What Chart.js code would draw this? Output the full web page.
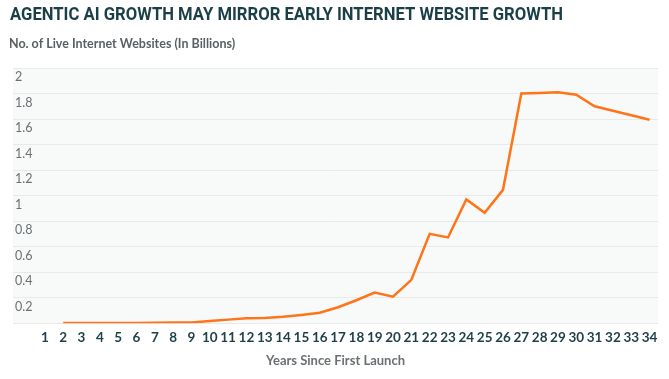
<!DOCTYPE html>
<html>
<head>
<meta charset="utf-8">
<script src="https://cdn.jsdelivr.net/npm/chart.js@4"></script>
<style>
  html, body { margin: 0; padding: 0; background: #ffffff; }
  canvas { display: block; }
</style>
</head>
<body>
<canvas id="growthChart" width="669" height="379"></canvas>
<script>
// Years since first launch (x axis categories)
const years = [1, 2, 3, 4, 5, 6, 7, 8, 9, 10, 11, 12, 13, 14, 15, 16, 17,
               18, 19, 20, 21, 22, 23, 24, 25, 26, 27, 28, 29, 30, 31, 32, 33, 34];

// Live internet websites, in billions (year 1 has no point)
const websites = [null, 0.001, 0.001, 0.001, 0.001, 0.002, 0.004, 0.005, 0.005, 0.017,
                  0.028, 0.038, 0.040, 0.050, 0.065, 0.082, 0.125, 0.18, 0.24, 0.208,
                  0.34, 0.70, 0.672, 0.97, 0.865, 1.045, 1.80, 1.805, 1.81, 1.79,
                  1.70, 1.665, 1.63, 1.595];

const yTicks = [0, 0.2, 0.4, 0.6, 0.8, 1, 1.2, 1.4, 1.6, 1.8, 2];

const titleText = 'AGENTIC AI GROWTH MAY MIRROR EARLY INTERNET WEBSITE GROWTH';
const subtitleText = 'No. of Live Internet Websites (In Billions)';
const xAxisTitle = 'Years Since First Launch';

// grey panel behind the plot, plus the condensed headline
const plotBackground = {
    id: 'plotBackground',
    beforeDraw(chart) {
        const { ctx, chartArea } = chart;
        ctx.save();
        ctx.fillStyle = '#f8f9f9';
        ctx.fillRect(chartArea.left, chartArea.top,
                     chartArea.right - chartArea.left, chartArea.bottom - chartArea.top);

        // headline is a condensed face in the original, squeeze it to the same width
        ctx.font = 'bold 18px Roboto, "DejaVu Sans", sans-serif';
        ctx.fillStyle = '#1b3f47';
        ctx.textBaseline = 'alphabetic';
        ctx.textAlign = 'left';
        const w = ctx.measureText(titleText).width;
        ctx.translate(10, 20);
        ctx.scale(553 / w, 1);
        ctx.fillText(titleText, 0, 0);
        ctx.restore();
    }
};

const ctx = document.getElementById('growthChart').getContext('2d');
new Chart(ctx, {
    type: 'line',
    data: {
        datasets: [{
            label: 'Live Internet Websites',
            data: years.map((y, i) => ({ x: y, y: websites[i] })),
            borderColor: '#ff7419',
            borderWidth: 2.5,
            pointRadius: 0,
            tension: 0,
            fill: false,
            spanGaps: false
        }]
    },
    options: {
        responsive: false,
        animation: false,
        layout: { padding: { left: 9, right: 11, top: 0, bottom: 10 } },
        plugins: {
            legend: { display: false },
            tooltip: { enabled: false },
            subtitle: {
                display: true,
                text: subtitleText,
                align: 'start',
                color: '#5a5f62',
                font: { family: 'Lato, "Open Sans", sans-serif', size: 12.5, weight: 'bold' },
                padding: { top: 36, bottom: 17 }
            }
        },
        scales: {
            x: {
                type: 'linear',
                min: -0.74,
                max: 34.46,
                afterBuildTicks: axis => { axis.ticks = years.map(v => ({ value: v })); },
                grid: { display: false, drawTicks: false },
                border: { display: false },
                ticks: {
                    color: '#1d3f47',
                    padding: 6,
                    autoSkip: false,
                    maxRotation: 0,
                    font: { family: 'Lato, "Open Sans", sans-serif', size: 13.5, weight: 'bold' },
                    callback: v => String(v)
                },
                title: {
                    display: true,
                    text: xAxisTitle,
                    color: '#6b7073',
                    font: { family: 'Lato, "Open Sans", sans-serif', size: 13, weight: 'bold' },
                    padding: { top: 2, bottom: 0 }
                }
            },
            y: {
                min: 0,
                max: 2,
                afterBuildTicks: axis => { axis.ticks = yTicks.map(v => ({ value: v })); },
                grid: { color: '#e8eaea', lineWidth: 1, drawTicks: false },
                border: { display: false },
                ticks: {
                    mirror: true,
                    padding: 2,
                    labelOffset: 9,
                    color: '#6b7073',
                    font: { family: 'Lato, "Open Sans", sans-serif', size: 12.5 },
                    callback: v => v === 0 ? '' : String(Math.round(v * 10) / 10)
                }
            }
        }
    },
    plugins: [plotBackground]
});
</script>
</body>
</html>
